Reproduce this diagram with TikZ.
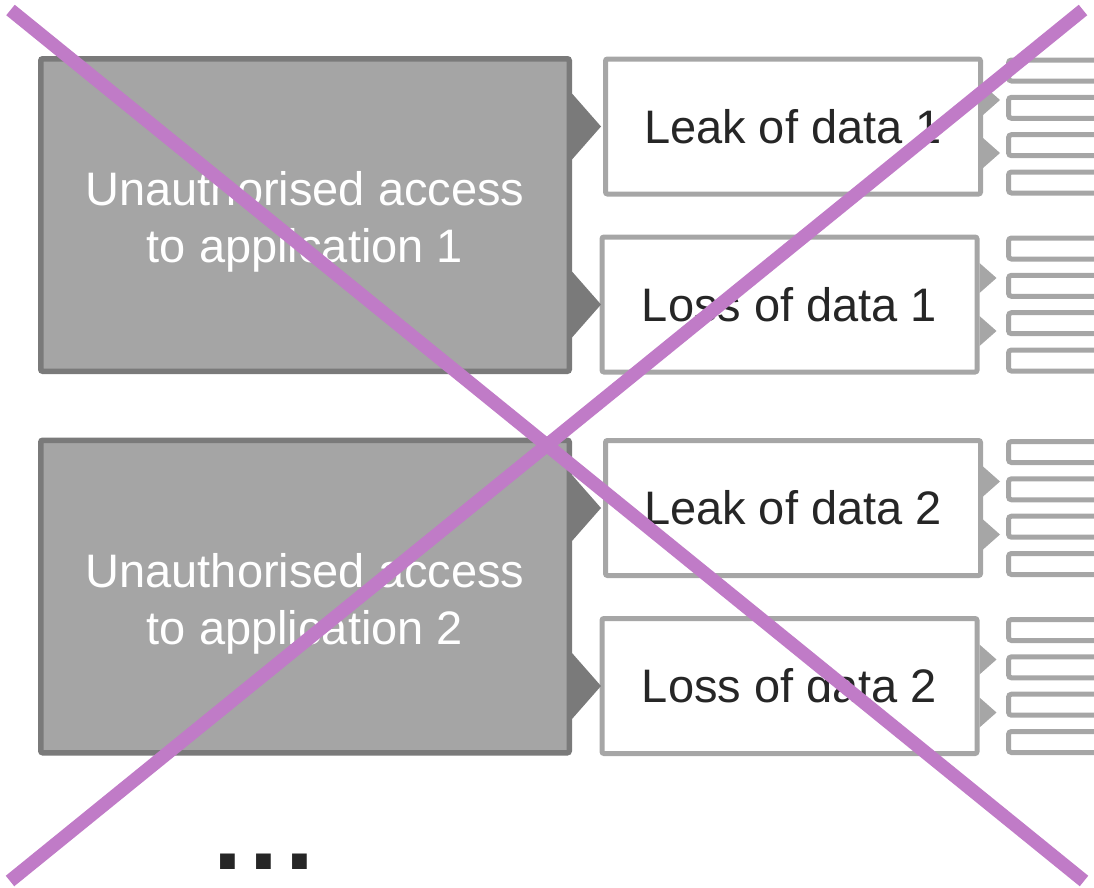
\documentclass[tikz,border=0pt]{standalone}
\usepackage{fontspec}
\setmainfont{Liberation Sans}
\definecolor{appfill}{RGB}{165,165,165}
\definecolor{appline}{RGB}{122,122,122}
\definecolor{dataline}{RGB}{166,166,166}
\definecolor{textdark}{RGB}{38,38,38}
\definecolor{crossline}{RGB}{192,123,199}
\begin{document}
\begin{tikzpicture}[x=1pt,y=-1pt,
    appbox/.style={draw=appline, fill=appfill, line width=5.5pt, rounded corners=2pt,
      minimum width=528.5pt, minimum height=312.5pt, inner sep=0pt,
      text=white, align=center, font=\fontsize{47}{57}\selectfont},
    databox/.style={draw=dataline, fill=white, line width=5pt, rounded corners=2pt,
      minimum width=375pt, minimum height=135pt, inner sep=0pt,
      text=textdark, font=\fontsize{47}{57}\selectfont},
    barbox/.style={draw=dataline, fill=white, line width=5pt, rounded corners=3pt,
      minimum width=120pt, minimum height=21pt, inner sep=0pt},
    crossbar/.style={draw=crossline, line width=13.5pt}]
  \useasboundingbox (0,0) rectangle (1094,887);
  \clip (0,0) rectangle (1094,887);
  % right hand leaves
  \foreach \y in {126.5,304.5,508,686}
    \foreach \o in {-56,-18.7,18.7,56}
      \node[barbox] at (1068.5,\y+\o) {};
  % applications
  \node[appbox] (app1) at (305,215) {\rule{0pt}{48pt}Unauthorised access\\to application 1};
  \node[appbox] (app2) at (305,596.5) {\rule{0pt}{48pt}Unauthorised access\\to application 2};
  % data boxes
  \node[databox] (leak1) at (793,126.5) {Leak of data 1};
  \node[databox] (loss1) at (789.5,304.5) {Loss of data 1};
  \node[databox] (leak2) at (793,508) {Leak of data 2};
  \node[databox] (loss2) at (789.5,686) {Loss of data 2};
  % pointers
  \begin{scope}[appline]
    \fill (app1.east |- leak1) ++(0,-33) -- ++(29,33) -- ++(-29,33) -- cycle;
    \fill (app1.east |- loss1) ++(0,-33) -- ++(29,33) -- ++(-29,33) -- cycle;
    \fill (app2.east |- leak2) ++(0,-33) -- ++(29,33) -- ++(-29,33) -- cycle;
    \fill (app2.east |- loss2) ++(0,-33) -- ++(29,33) -- ++(-29,33) -- cycle;
  \end{scope}
  \begin{scope}[dataline]
    \foreach \d in {leak1,loss1,leak2,loss2} {
      \fill (\d.east) ++(0,-41.5) -- ++(17,15) -- ++(-17,15) -- cycle;
      \fill (\d.east) ++(0,11.5) -- ++(17,15) -- ++(-17,15) -- cycle;
    }
  \end{scope}
  \node[text=textdark, inner sep=0pt, font=\bfseries\fontsize{104}{104}\selectfont]
    (more) at (264,862) {.\kern7pt.\kern7pt.};
  % crossed out
  \coordinate (tl) at (10.5,10);
  \coordinate (tr) at (1083,10);
  \coordinate (bl) at (10,881);
  \coordinate (br) at (1084,881);
  \draw[crossbar] (tl) -- (br);
  \draw[crossbar] (tr) -- (bl);
\end{tikzpicture}
\end{document}
